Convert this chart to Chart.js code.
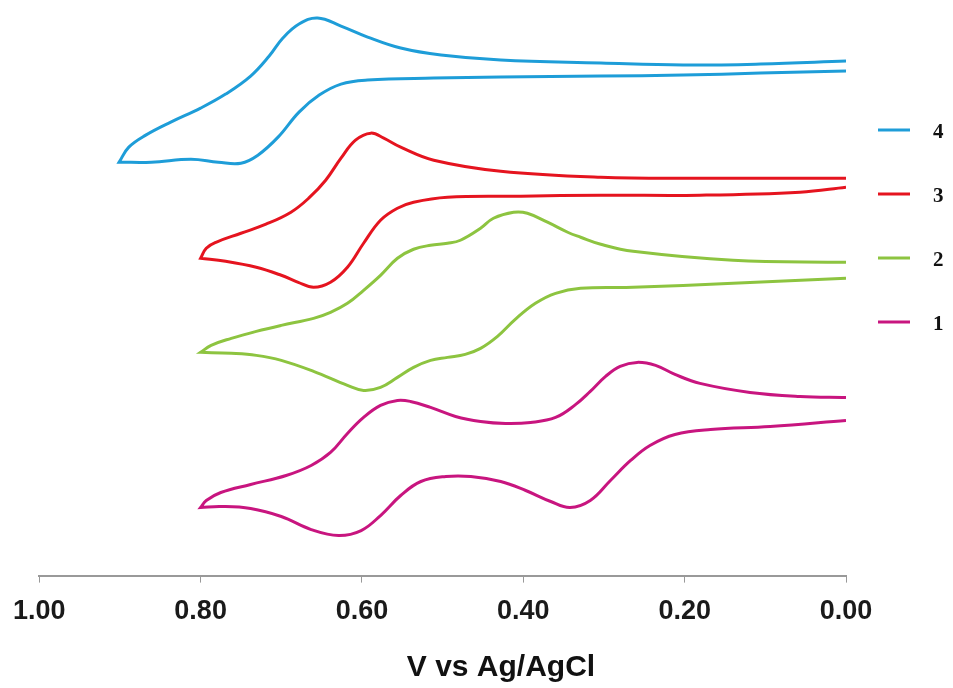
<!DOCTYPE html>
<html><head><meta charset="utf-8">
<script src="https://cdn.jsdelivr.net/npm/chart.js@4"></script>
<style>html,body{margin:0;padding:0;background:#fff}#wrap{width:953px;height:688px;position:relative}</style>
</head><body><div id="wrap"><canvas id="c"></canvas></div>
<script>
// Series labels (legend order top -> bottom)
const seriesLabels = ['4', '3', '2', '1'];
const seriesColors = ['#1E9DD8', '#E5141F', '#8DC440', '#C8157F'];

// x tick labels
const xTickValues = [1.00, 0.80, 0.60, 0.40, 0.20, 0.00];

// Cyclic voltammograms: potential (V vs Ag/AgCl) and current (arbitrary units, curves offset).
// Each loop: upper sweep from 0.00 V to the vertex, then lower sweep back (vertex listed for both sweeps).
const potential4 = [0.000,0.106,0.202,0.304,0.428,0.502,0.552,0.593,0.626,0.655,0.678,0.698,0.715,0.738,0.769,0.800,0.837,0.868,0.889,0.901,
                    0.901,0.861,0.812,0.778,0.750,0.729,0.704,0.678,0.653,0.626,0.593,0.511,0.428,0.304,0.202,0.106,0.000];
const current4   = [514,511,510,512,515,520,527,538,549,557,551,537,519,499,481,467,453,440,428,413,
                    413,413,416,413,412,420,438,463,480,491,495,497,498,499,500,502,504];

const potential3 = [0.000,0.181,0.304,0.428,0.511,0.552,0.573,0.589,0.608,0.626,0.645,0.666,0.688,0.719,0.750,0.781,0.793,0.800,
                    0.800,0.769,0.731,0.700,0.679,0.660,0.639,0.618,0.598,0.577,0.556,0.536,0.494,0.403,0.304,0.181,0.057,0.000];
const current3   = [397,397,398,404,415,428,437,442,435,417,395,377,363,351,342,333,327,317,
                    317,314,308,300,293,288,293,308,332,355,367,373,378,379,380,380,383,388];

const potential2 = [0.000,0.140,0.264,0.304,0.329,0.345,0.370,0.395,0.412,0.437,0.453,0.478,0.494,0.515,0.536,0.556,0.577,0.598,0.618,0.639,0.660,0.700,0.731,0.762,0.787,0.800,
                    0.800,0.762,0.731,0.700,0.660,0.618,0.598,0.577,0.556,0.536,0.515,0.494,0.472,0.453,0.432,0.410,0.385,0.360,0.329,0.264,0.140,0.000];
const current2   = [313,315,324,331,338,343,353,362,363,357,347,335,332,330,326,317,300,285,272,263,257,250,244,237,230,223,
                    223,222,220,215,204,190,185,188,198,208,215,218,221,227,239,256,272,282,287,288,292,297];

const potential1 = [0.000,0.057,0.119,0.181,0.212,0.236,0.259,0.280,0.298,0.317,0.335,0.360,0.391,0.422,0.453,0.484,0.515,0.540,0.556,0.577,0.598,0.618,0.639,0.663,0.694,0.738,0.775,0.793,0.800,
                    0.800,0.775,0.738,0.700,0.663,0.629,0.601,0.577,0.552,0.527,0.496,0.465,0.428,0.397,0.366,0.342,0.317,0.292,0.267,0.243,0.212,0.168,0.094,0.000];
const current1   = [178,179,183,192,201,210,213,209,199,184,171,158,153,152,154,159,168,174,175,170,158,142,123,110,100,91,83,75,68,
                    68,69,67,59,46,40,45,60,80,94,99,99,94,85,74,68,75,95,115,130,141,146,149,155];

const potentials = [potential4, potential3, potential2, potential1];
const currents = [current4, current3, current2, current1];

const toPoints = (v, c) => v.map((x, k) => ({x: x, y: c[k]}));

const sideLegend = {
  id: 'sideLegend',
  afterDraw(chart) {
    const {ctx, chartArea} = chart;
    ctx.save();
    chart.data.datasets.forEach((ds, k) => {
      const y = 130 + k * 64;
      ctx.strokeStyle = ds.borderColor;
      ctx.lineWidth = 3;
      ctx.beginPath();
      ctx.moveTo(chartArea.right + 32, y);
      ctx.lineTo(chartArea.right + 64, y);
      ctx.stroke();
      ctx.fillStyle = '#111';
      ctx.font = 'bold 21px "Liberation Serif", "Times New Roman", serif';
      ctx.textAlign = 'left';
      ctx.textBaseline = 'middle';
      ctx.fillText(ds.label, chartArea.right + 87, y + 3);
    });
    ctx.restore();
  }
};

new Chart(document.getElementById('c'), {
  type: 'scatter',
  data: {
    datasets: seriesLabels.map((lab, k) => ({
      label: lab,
      data: toPoints(potentials[k], currents[k]),
      showLine: true,
      borderColor: seriesColors[k],
      backgroundColor: seriesColors[k],
      borderWidth: 3,
      pointRadius: 0,
      tension: 0.4,
      fill: false
    }))
  },
  options: {
    responsive: true,
    maintainAspectRatio: false,
    animation: false,
    devicePixelRatio: 1,
    layout: {padding: {left: 38, right: 107, top: 0, bottom: 0}},
    plugins: {legend: {display: false}, tooltip: {enabled: false}},
    scales: {
      x: {
        type: 'linear',
        reverse: true,
        min: 0, max: 1,
        afterBuildTicks(scale) { scale.ticks = xTickValues.map(v => ({value: v})); },
        ticks: {
          callback: v => Number(v).toFixed(2),
          color: '#1a1a1a',
          font: {family: '"Liberation Sans", Arial, sans-serif', size: 27, weight: 'bold'},
          padding: 13,
          maxRotation: 0
        },
        grid: {drawOnChartArea: false, drawTicks: true, tickLength: 7, color: '#999', tickWidth: 1},
        border: {display: true, color: '#999', width: 2},
        title: {
          display: true,
          text: '              V vs Ag/AgCl',
          color: '#111',
          font: {family: '"Liberation Sans", Arial, sans-serif', size: 30, weight: 'bold'},
          padding: {top: 9, bottom: 2}
        }
      },
      y: {display: false, min: 0, max: 575}
    }
  },
  plugins: [sideLegend]
});
</script>
</body></html>
